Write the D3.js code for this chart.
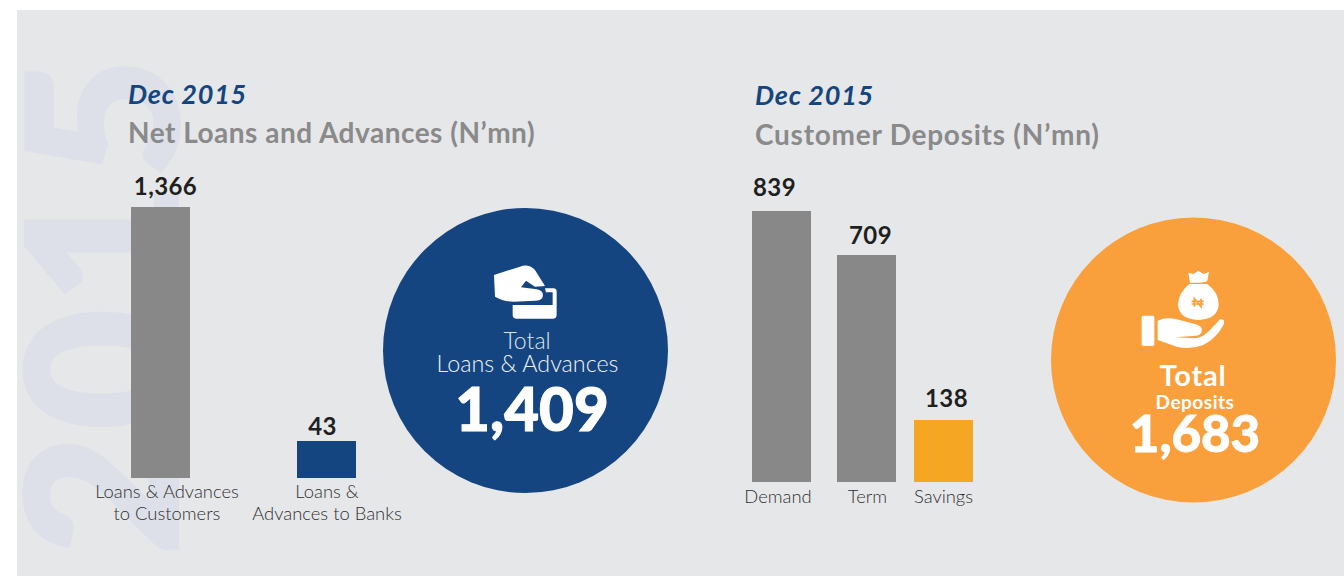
<!DOCTYPE html>
<html><head><meta charset="utf-8">
<script src="https://cdnjs.cloudflare.com/ajax/libs/d3/7.8.5/d3.min.js"></script>
<style>html,body{margin:0;padding:0;background:#fff;overflow:hidden}svg{display:block}text{font-family:Lato,sans-serif}</style>
</head><body><svg id="c" width="1344" height="576"></svg>
<script>
const loanCategories = ["Loans & Advances|to Customers", "Loans &|Advances to Banks"];
const loanValues = [1366, 43];
const depositCategories = ["Demand", "Term", "Savings"];
const depositValues = [839, 709, 138];
const periodLabel = "Dec 2015";
const loanTitle = "Net Loans and Advances (N\u2019mn)";
const depositTitle = "Customer Deposits (N\u2019mn)";
const loanTotal = 1409;
const depositTotal = 1683;
const fmt = d3.format(",");
const svg = d3.select("#c");

svg.append("rect").attr("x",17).attr("y",10).attr("width",1327).attr("height",566).attr("fill","#e6e7e9");

// watermark
svg.append("text").attr("transform","translate(177,304) rotate(-90)").attr("text-anchor","middle")
  .attr("font-size",208).attr("font-weight",900).attr("fill","#dde0e8").attr("stroke","#dde0e8").attr("stroke-width",4).attr("letter-spacing",5).text("2015");

// titles
function titles(x,y1,y2,t,ls){
  svg.append("text").attr("x",x).attr("y",y1).attr("font-size",27).attr("font-weight",700).attr("font-style","italic").attr("letter-spacing",0.75).attr("fill","#154580").text(periodLabel);
  svg.append("text").attr("x",x).attr("y",y2).attr("font-size",28).attr("font-weight",700).attr("letter-spacing",ls).attr("fill","#8a8a8a").text(t);
}
titles(128,104,143,loanTitle,0.5);
titles(755,105,145,depositTitle,0.75);

// the reference's bar heights are not proportional to their values, so both scales are piecewise
const yLoans = d3.scaleLinear().domain([0,43,1366]).range([478,441,207]);
const yDeposits = d3.scaleLinear().domain([0,138,709,839]).range([482,420,255,211]);
const xLoans = d3.scaleOrdinal().domain(loanCategories).range([131,297]);
const xDeposits = d3.scaleOrdinal().domain(depositCategories).range([752,837,914]);
const barW = 59;

function bars(cats,vals,x,y,colors,labelDx,labelGap){
  const g = svg.append("g");
  const data = cats.map((c,i)=>({c,v:vals[i],i}));
  g.selectAll("rect").data(data).join("rect")
    .attr("x",d=>x(d.c)).attr("y",d=>y(d.v)).attr("width",barW).attr("height",d=>y(0)-y(d.v)).attr("fill",d=>colors[d.i]);
  g.selectAll("text.v").data(data).join("text").attr("class","v")
    .attr("x",d=>x(d.c)+barW/2+labelDx[d.i]).attr("y",d=>y(d.v)-labelGap[d.i]).attr("text-anchor","middle")
    .attr("font-size",24).attr("font-weight",700).attr("letter-spacing",0.4).attr("fill","#1f1f1f").text(d=>fmt(d.v));
  return data;
}
const dl = bars(loanCategories,loanValues,xLoans,yLoans,["#888888","#154580"],[5,-4],[12,6]);
const dd = bars(depositCategories,depositValues,xDeposits,yDeposits,["#888888","#888888","#f5a623"],[-7,4,3],[15,11,13]);

function catLabels(data,x,y0,dx){
  data.forEach((d,i)=>{
    d.c.split("|").forEach((line,j)=>{
      svg.append("text").attr("x",x(d.c)+barW/2+dx[i]).attr("y",y0+j*22).attr("text-anchor","middle")
        .attr("font-size",18.4).attr("font-weight",300).attr("fill","#2f2f31").text(line);
    });
  });
}
catLabels(dl,xLoans,498,[6.5,0.5]);
catLabels(dd,xDeposits,503,[-3.5,1,0]);

// totals
svg.append("circle").attr("cx",525.5).attr("cy",350.5).attr("r",142.5).attr("fill","#154580");
svg.append("circle").attr("cx",1193.5).attr("cy",360).attr("r",142.5).attr("fill","#f9a03c");

// card icon
const ic1 = svg.append("g").attr("transform","translate(420,240) scale(0.3333)").attr("fill","#fff");
ic1.append("path").attr("d","M222 105 L300 80 Q325 70 345 90 L375 138 L345 140 L318 122 L303 142 L350 148 Q372 152 368 170 Q365 182 345 182 L280 185 Q250 185 225 170 Z");
ic1.append("path").attr("d","M375 145 H400 Q410 145 410 155 V225 Q410 236 398 236 H290 Q278 236 278 225 V195 H398 V157 H378 Z");

svg.append("text").attr("x",527).attr("y",349).attr("text-anchor","middle").attr("font-size",23).attr("font-weight",300).attr("fill","#dfe6f0").text("Total");
svg.append("text").attr("x",527.5).attr("y",372).attr("text-anchor","middle").attr("font-size",23.3).attr("font-weight",300).attr("fill","#eef2f7").text("Loans & Advances");
svg.append("text").attr("x",532).attr("y",431).attr("text-anchor","middle").attr("font-size",60).attr("font-weight",900).attr("stroke","#fff").attr("stroke-width",1).attr("fill","#fff").text(fmt(loanTotal));

// money-bag icon
const ic2 = svg.append("g").attr("transform","translate(1110,250) scale(0.3333)").attr("fill","#fff");
ic2.append("rect").attr("x",95).attr("y",197).attr("width",38).attr("height",91).attr("rx",5);
ic2.append("path").attr("d","M143 212 Q170 200 200 208 L255 222 Q280 228 275 245 Q270 258 250 258 L195 262 L255 265 Q280 262 300 240 L330 208 Q345 205 342 222 Q320 265 280 285 Q240 300 200 290 L143 270 Z");
ic2.append("path").attr("d","M235 68 L250 72 L265 62 L280 72 L297 66 L292 92 Q285 100 240 98 Z");
ic2.append("path").attr("d","M238 102 H292 Q328 130 326 165 Q322 208 265 210 Q208 208 204 165 Q204 130 238 102 Z");
ic2.append("path").attr("fill","none").attr("stroke","#f9a03c").attr("stroke-width",5).attr("d","M253 170 V146 L273 170 V146 M245 154 H281 M245 162 H281");

svg.append("text").attr("x",1193).attr("y",386).attr("text-anchor","middle").attr("font-size",29).attr("font-weight",700).attr("letter-spacing",0.8).attr("fill","#fff").text("Total");
svg.append("text").attr("x",1195).attr("y",409).attr("text-anchor","middle").attr("font-size",19).attr("font-weight",700).attr("letter-spacing",0.5).attr("fill","#fff").text("Deposits");
svg.append("text").attr("x",1195).attr("y",452).attr("text-anchor","middle").attr("font-size",51).attr("font-weight",900).attr("stroke","#fff").attr("stroke-width",0.8).attr("fill","#fff").text(fmt(depositTotal));
</script></body></html>
